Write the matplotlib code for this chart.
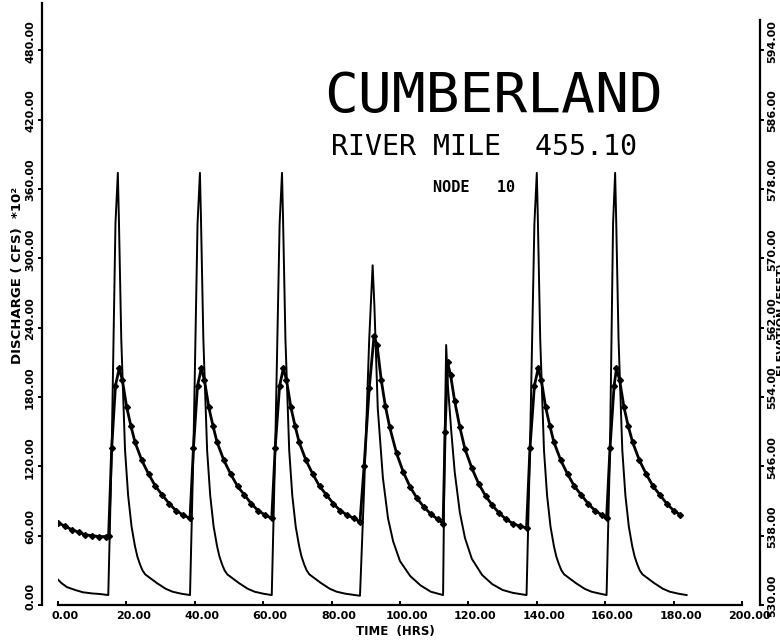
import numpy as np
import matplotlib.pyplot as plt
from matplotlib.transforms import ScaledTranslation

# discharge, cfs * 10^2 (thin line, left axis)
hrs_q = [0, 1, 2.6, 5, 7.3, 10, 12.3, 14.7,
         15.7, 16.8, 17.5, 17.8, 18.5, 19.6, 20.5, 21.5, 22.5, 23.2, 24, 24.7, 25.5, 28.9, 31.5, 33.5, 36, 38.6,
         39.6, 40.8, 41.5, 41.8, 42.5, 43.6, 44.5, 45.5, 46.5, 47.2, 48, 48.7, 49.5, 52.9, 55.5, 57.5, 60, 62.5,
         63.5, 64.8, 65.5, 65.8, 66.5, 67.6, 68.5, 69.5, 70.5, 71.2, 72, 72.7, 73.5, 76.9, 79.5, 81.5, 84, 88.3,
         89.5, 91, 92, 92.5, 93.5, 95, 96.5, 98, 100, 103, 106, 109, 112.6,
         113.1, 113.5, 114, 115, 116, 117.5, 119, 121, 124, 127, 130, 133, 137,
         138, 139.3, 140, 140.3, 141, 142.1, 143, 144, 145, 145.7, 146.5, 147.2, 148, 151.4, 154, 156, 158.5, 160.4,
         161.4, 162.3, 162.9, 163.2, 163.9, 165, 165.9, 166.9, 167.9, 168.6, 169.4, 170.1, 170.9, 174.3, 176.9, 178.9, 181.4, 183.8]
discharge = [22, 19, 15.5, 13, 11, 10, 9.5, 8.6,
             134, 330, 374, 335, 230, 134, 95, 68, 51, 42, 35, 30, 26.5, 19, 14, 11.5, 9.8, 8.6,
             134, 330, 374, 335, 230, 134, 95, 68, 51, 42, 35, 30, 26.5, 19, 14, 11.5, 9.8, 8.6,
             134, 330, 374, 335, 230, 134, 95, 68, 51, 42, 35, 30, 26.5, 19, 14, 11.5, 9.8, 8,
             100, 230, 294, 260, 170, 110, 75, 55, 38, 25, 17, 11.5, 8.6,
             150, 225, 190, 150, 115, 80, 58, 40, 26, 18, 13, 10.5, 8.6,
             134, 330, 374, 335, 230, 134, 95, 68, 51, 42, 35, 30, 26.5, 19, 14, 11.5, 9.8, 8.6,
             134, 330, 374, 335, 230, 134, 95, 68, 51, 42, 35, 30, 26.5, 19, 14, 11.5, 9.8, 8.6]

# water surface elevation, feet (marked line, right axis)
hrs_e = [0, 2, 4, 6, 8, 10, 12, 14, 14.8, 15.7, 16.8, 17.9, 18.8, 20.1, 21.3, 22.5, 24.5, 26.5, 28.5, 30.5, 32.5, 34.5, 36.5, 38.6,
         39.6, 40.8, 41.9, 42.8, 44.1, 45.3, 46.5, 48.5, 50.5, 52.5, 54.5, 56.5, 58.5, 60.5, 62.5,
         63.5, 64.8, 65.9, 66.8, 68.1, 69.3, 70.5, 72.5, 74.5, 76.5, 78.5, 80.5, 82.5, 84.5, 86.5, 88.3,
         89.5, 91, 92.4, 93.3, 94.5, 95.7, 97, 99, 101, 103, 105, 107, 109, 111, 112.6,
         113.2, 113.9, 114.8, 116, 117.5, 119, 121, 123, 125, 127, 129, 131, 133, 135, 137,
         138, 139.3, 140.4, 141.3, 142.6, 143.8, 145, 147, 149, 151, 153, 155, 157, 159, 160.4,
         161.4, 162.6, 163.3, 164.2, 165.5, 166.7, 168, 170, 172, 174, 176, 178, 180, 182]
elevation = [539.5, 539.1, 538.7, 538.4, 538.1, 538.0, 537.9, 537.9, 538.0, 548.1, 555.3, 557.3, 556.0, 552.8, 550.7, 548.8, 546.7, 545.1, 543.7, 542.7, 541.7, 540.9, 540.4, 540.0,
             548.1, 555.3, 557.3, 556.0, 552.8, 550.7, 548.8, 546.7, 545.1, 543.7, 542.7, 541.7, 540.9, 540.4, 540.0,
             548.1, 555.3, 557.3, 556.0, 552.8, 550.7, 548.8, 546.7, 545.1, 543.7, 542.7, 541.7, 540.9, 540.4, 540.0, 539.6,
             546.0, 555.0, 561.0, 560.0, 556.0, 553.0, 550.5, 547.5, 545.3, 543.6, 542.3, 541.3, 540.5, 539.9, 539.4,
             550.0, 558.0, 556.5, 553.5, 550.5, 548.0, 545.8, 544.0, 542.6, 541.5, 540.6, 539.9, 539.4, 539.1, 538.9,
             548.1, 555.3, 557.3, 556.0, 552.8, 550.7, 548.8, 546.7, 545.1, 543.7, 542.7, 541.7, 540.9, 540.4, 540.0,
             548.1, 555.3, 557.3, 556.0, 552.8, 550.7, 548.8, 546.7, 545.1, 543.7, 542.7, 541.7, 540.9, 540.4]

x_ticks = [0, 20, 40, 60, 80, 100, 120, 140, 160, 180, 200]
q_ticks = [0, 60, 120, 180, 240, 300, 360, 420, 480]
e_ticks = [530, 538, 546, 554, 562, 570, 578, 586, 594]

W, H = 780, 641
fig = plt.figure(figsize=(W / 100, H / 100), dpi=100)
ax = fig.add_axes([58 / W, 36 / H, 684 / W, 602 / H])

ax.plot(hrs_q, discharge, color='black', lw=1.4)
ax.set_xlim(0, 200)
ax.set_ylim(0, 521)

ax2 = ax.twinx()
ax2.plot(hrs_e, elevation, color='black', lw=2, marker='D', ms=3)
ax2.set_ylim(530, 530 + 521 * 8 / 60)

for s in ['top', 'right']:
    ax.spines[s].set_visible(False)
for s in ['top', 'left', 'bottom']:
    ax2.spines[s].set_visible(False)
ax.spines['left'].set_position(('outward', 11.5))
ax2.spines['right'].set_position(('outward', 13))
ax2.spines['right'].set_bounds(530, 597.5)
for sp in [ax.spines['left'], ax.spines['bottom'], ax2.spines['right']]:
    sp.set_linewidth(1.6)

tick_font = dict(family='DejaVu Sans', weight='bold', size=8)
ax.set_xticks(x_ticks)
ax.set_xticklabels(['%.2f' % v for v in x_ticks], **tick_font)
ax.set_yticks(q_ticks)
ax.set_yticklabels(['%.2f' % v for v in q_ticks], rotation=90, va='center', **tick_font)
ax2.set_yticks(e_ticks)
ax2.set_yticklabels(['%.2f' % v for v in e_ticks], rotation=90, va='center', **tick_font)
ax.tick_params(axis='x', direction='in', length=3, width=1.4, pad=4)
ax.tick_params(axis='y', direction='out', length=3, width=1.4, pad=2)
ax2.tick_params(axis='y', direction='out', length=3, width=1.4, pad=2)

# labels sit a little off their ticks, as in the original plotter output
dx = ScaledTranslation(7 / 100, 0, fig.dpi_scale_trans)
dy = ScaledTranslation(0, 9 / 100, fig.dpi_scale_trans)
for lab in ax.get_xticklabels():
    lab.set_transform(lab.get_transform() + dx)
for lab in ax.get_yticklabels() + ax2.get_yticklabels():
    lab.set_transform(lab.get_transform() + dy)

fig.text(395 / W, 1 - 632 / H, 'TIME  (HRS)', ha='center', va='center',
         family='DejaVu Sans', weight='bold', size=8.5)
fig.text(18 / W, 1 - 275 / H, 'DISCHARGE ( CFS)  *10²', ha='center', va='center',
         rotation=90, family='DejaVu Sans', weight='bold', size=9.5)
fig.text(782 / W, 1 - 320 / H, 'ELEVATION (FEET)', ha='center', va='center',
         rotation=90, family='DejaVu Sans', weight='bold', size=8)

fig.text(324 / W, 1 - 97 / H, 'CUMBERLAND', ha='left', va='center',
         family='DejaVu Sans Mono', size=40.5)
fig.text(331 / W, 1 - 147 / H, 'RIVER MILE  455.10', ha='left', va='center',
         family='DejaVu Sans Mono', size=20.3)
fig.text(433 / W, 1 - 187 / H, 'NODE   10', ha='left', va='center',
         family='DejaVu Sans Mono', weight='bold', size=11)

fig.savefig('out.png', dpi=100)
